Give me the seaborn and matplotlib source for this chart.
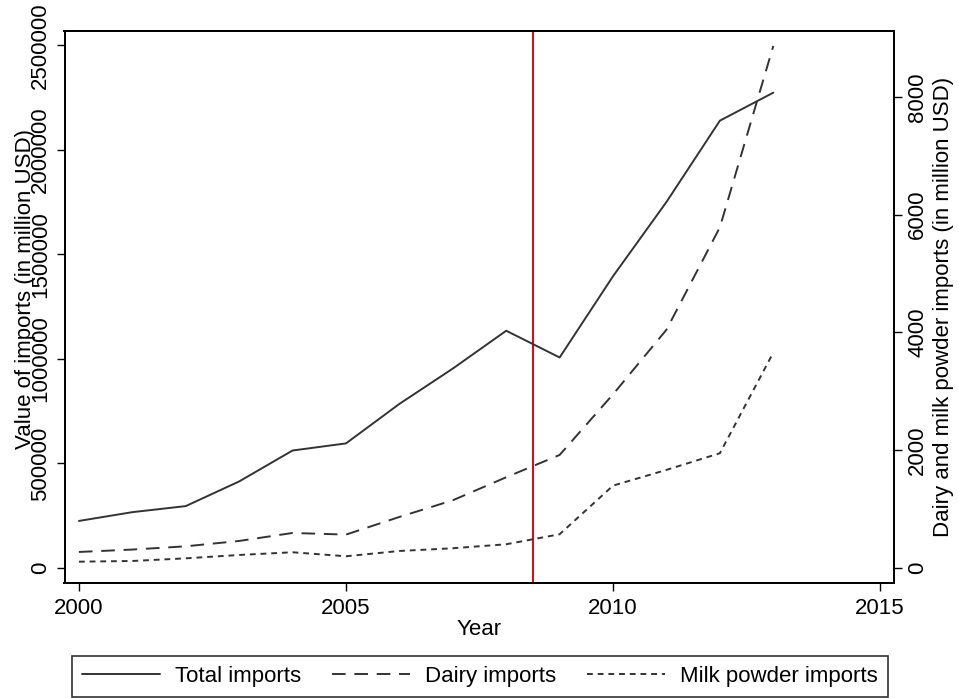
import matplotlib
matplotlib.use("Agg")
import pandas as pd
import seaborn as sns
from matplotlib import pyplot as plt

years = list(range(2000, 2014))
# left axis (million USD)
total_imports = [225000, 267000, 296000, 414000, 562000, 596000, 785000,
                 954000, 1135000, 1007000, 1396000, 1751000, 2140000, 2274000]
# right axis (million USD)
dairy_imports = [272, 313, 368, 459, 595, 567, 867, 1150, 1541, 1920,
                 2950, 4046, 5786, 8866]
milk_powder_imports = [107, 119, 164, 221, 267, 199, 289, 335, 403, 573,
                       1399, 1666, 1949, 3658]
policy_year = 2008.5

left_ticks = [0, 500000, 1000000, 1500000, 2000000, 2500000]
right_ticks = [0, 2000, 4000, 6000, 8000]
x_ticks = [2000, 2005, 2010, 2015]

df = pd.DataFrame({
    "year": years,
    "total": total_imports,
    "dairy": dairy_imports,
    "milk": milk_powder_imports,
})

sns.set_style("ticks")
plt.rcParams["font.family"] = ["Liberation Sans", "DejaVu Sans"]
plt.rcParams["axes.linewidth"] = 1.3
plt.rcParams["xtick.major.width"] = 1.0
plt.rcParams["ytick.major.width"] = 1.0
plt.rcParams["text.color"] = "black"
plt.rcParams["axes.labelcolor"] = "black"

FS = 16
line_color = "#333333"

fig = plt.figure(figsize=(9.59, 6.98), dpi=100)
ax = fig.add_axes([64.5 / 959, 1 - 583 / 698, 829.5 / 959, 552 / 698])
ax2 = ax.twinx()

# red vertical line for the event year
ax.axvline(policy_year, color="#e8000b", lw=1.4, zorder=1)

sns.lineplot(data=df, x="year", y="total", ax=ax, color=line_color, lw=1.4,
             label="Total imports", legend=False)
sns.lineplot(data=df, x="year", y="dairy", ax=ax2, color=line_color, lw=1.4,
             linestyle=(0, (7, 4.5)), label="Dairy imports", legend=False)
sns.lineplot(data=df, x="year", y="milk", ax=ax2, color=line_color, lw=1.4,
             linestyle=(0, (3, 2.5)), label="Milk powder imports", legend=False)

ax.set_xlim(1999.73, 2015.26)
ax.set_ylim(-71900, 2569000)
ax2.set_ylim(-255, 9120)

ax.set_xticks(x_ticks)
ax.set_xticklabels([str(t) for t in x_ticks], fontsize=FS)
ax.set_yticks(left_ticks)
ax.set_yticklabels([str(t) for t in left_ticks], fontsize=FS, rotation=90, va="center")
ax2.set_yticks(right_ticks)
ax2.set_yticklabels([str(t) for t in right_ticks], fontsize=FS, rotation=90, va="center")

ax.tick_params(axis="x", length=5.5, pad=5, colors="black")
ax.tick_params(axis="y", length=5.5, pad=4, colors="black")
ax2.tick_params(axis="y", length=5.5, pad=4, colors="black")

ax.set_xlabel("Year", fontsize=FS)
ax.xaxis.set_label_coords(0.5, -0.065)
ax.set_ylabel("Value of imports (in million USD)", fontsize=FS)
ax.yaxis.set_label_coords(-0.034, 0.533)
ax2.set_ylabel("Dairy and milk powder imports (in million USD)", fontsize=FS, rotation=90)
ax2.yaxis.set_label_coords(1.047, 0.5)

for a in (ax, ax2):
    for s in a.spines.values():
        s.set_visible(True)
        s.set_color("black")

# legend across the bottom
handles = ax.get_lines()[1:] + ax2.get_lines()
labels = ["Total imports", "Dairy imports", "Milk powder imports"]
leg = fig.legend(handles, labels, loc="upper left",
                 bbox_to_anchor=(72 / 959, 1 - 656 / 698),
                 ncol=3, fontsize=FS, frameon=True, fancybox=False,
                 handlelength=3.5, handletextpad=0.68, columnspacing=1.4,
                 borderpad=0.45, borderaxespad=0)
leg.get_frame().set_edgecolor("black")
leg.get_frame().set_linewidth(1.2)

fig.savefig("out.png", dpi=100)
